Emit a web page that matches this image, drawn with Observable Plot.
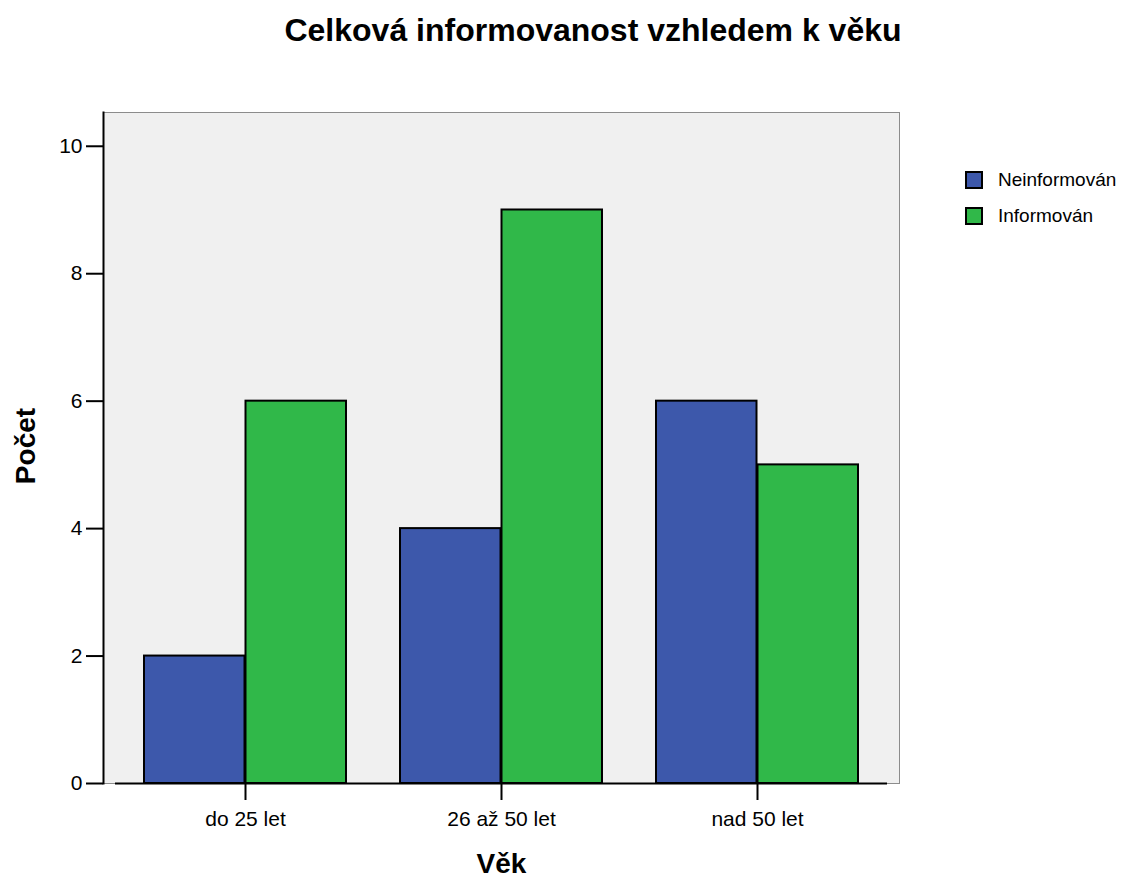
<!DOCTYPE html>
<html>
<head>
<meta charset="utf-8">
<script src="https://cdn.jsdelivr.net/npm/d3@7"></script>
<script src="https://cdn.jsdelivr.net/npm/@observablehq/plot@0.6"></script>
<style>
  body { margin: 0; background: #fff; font-family: "Liberation Sans", Arial, sans-serif; }
  #wrap { position: relative; width: 1133px; height: 880px; }
  #title { position: absolute; left: 0; top: 0; width: 1186px; height: 60px; line-height: 60px; text-align: center; font-weight: bold; font-size: 32px; color: #000; }
  #chart { position: absolute; left: 0; top: 60px; }
  #legend { position: absolute; left: 965px; top: 162px; font-size: 19px; }
  .item { display: flex; align-items: center; height: 36px; }
  .sw { width: 14px; height: 14px; border: 2px solid #000; margin-right: 15px; }
</style>
</head>
<body>
<div id="wrap">
  <div id="title">Celková informovanost vzhledem k věku</div>
  <div id="chart"></div>
  <div id="legend"></div>
</div>
<script>
const categories = ["do 25 let", "26 až 50 let", "nad 50 let"];
const series = ["Neinformován", "Informován"];
const neinformovan = [2, 4, 6];
const informovan = [6, 9, 5];
const colors = ["#3d58ab", "#30b849"];
const yTicks = [0, 2, 4, 6, 8, 10];

const rows = [];
categories.forEach((c, i) => {
  rows.push({vek: c, skupina: series[0], pocet: neinformovan[i]});
  rows.push({vek: c, skupina: series[1], pocet: informovan[i]});
});

const half = 101.5;
const plot = Plot.plot({
  width: 1133,
  height: 820,
  marginLeft: 103,
  marginRight: 234,
  marginTop: 52,
  marginBottom: 97,
  style: {fontFamily: "Liberation Sans, Arial, sans-serif", fontSize: "21px", color: "#000", background: "transparent"},
  x: {domain: categories, paddingInner: 0.21, paddingOuter: 0.154, label: null},
  y: {domain: [0, 10.53], label: null},
  color: {domain: series, range: colors},
  marks: [
    Plot.frame({fill: "#f0f0f0", stroke: "#8c8c8c", strokeWidth: 1}),
    Plot.barY(rows.filter(d => d.skupina === series[0]), {x: "vek", y: "pocet", fill: "skupina", stroke: "#000", strokeWidth: 2, insetRight: half}),
    Plot.barY(rows.filter(d => d.skupina === series[1]), {x: "vek", y: "pocet", fill: "skupina", stroke: "#000", strokeWidth: 2, insetLeft: half}),
    Plot.ruleY([0], {stroke: "#000", strokeWidth: 2, insetLeft: 12, insetRight: 12}),
    Plot.frame({anchor: "left", stroke: "#000", strokeWidth: 2}),
    Plot.axisY({ticks: yTicks, tickSize: 17, tickPadding: 4, strokeWidth: 2, fontSize: 21, label: null}),
    Plot.axisX({tickSize: 17, tickPadding: 11, strokeWidth: 2, fontSize: 21, label: null}),
    Plot.text(["Počet"], {frameAnchor: "left", textAnchor: "middle", lineAnchor: "middle", dx: -77, dy: -2, rotate: -90, fontSize: 28, fontWeight: "bold"}),
    Plot.text(["Věk"], {frameAnchor: "bottom", textAnchor: "middle", lineAnchor: "middle", dy: 81, fontSize: 28, fontWeight: "bold"})
  ]
});
document.getElementById("chart").appendChild(plot);

const legend = document.getElementById("legend");
series.forEach((s, i) => {
  const it = document.createElement("div");
  it.className = "item";
  const sw = document.createElement("div");
  sw.className = "sw";
  sw.style.background = colors[i];
  const lb = document.createElement("span");
  lb.textContent = s;
  it.appendChild(sw);
  it.appendChild(lb);
  legend.appendChild(it);
});
</script>
</body>
</html>
